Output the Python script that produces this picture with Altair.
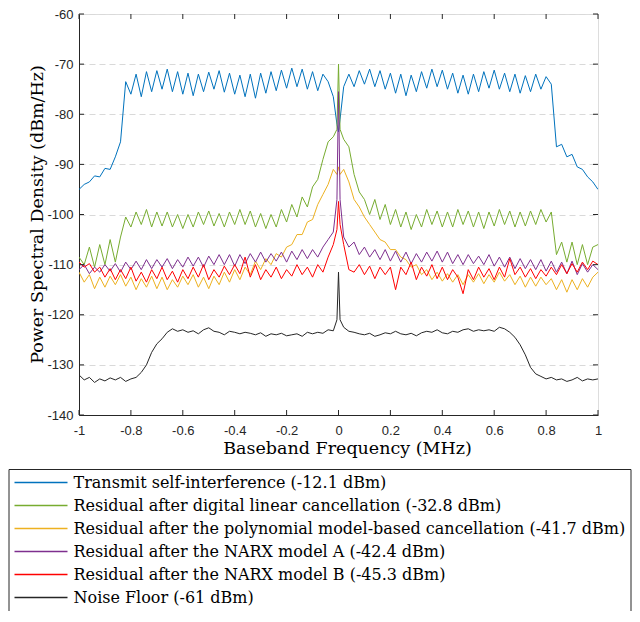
import altair as alt
import pandas as pd

FREQ = [-1.00, -0.98, -0.96, -0.94, -0.92, -0.90, -0.88, -0.86, -0.84, -0.82,
        -0.80, -0.78, -0.76, -0.74, -0.72, -0.70, -0.68, -0.66, -0.64, -0.62,
        -0.60, -0.58, -0.56, -0.54, -0.52, -0.50, -0.48, -0.46, -0.44, -0.42,
        -0.40, -0.38, -0.36, -0.34, -0.32, -0.30, -0.28, -0.26, -0.24, -0.22,
        -0.20, -0.18, -0.16, -0.14, -0.12, -0.10, -0.08, -0.06, -0.04, -0.02,
        -0.006, 0.0, 0.006,
        0.02, 0.04, 0.06, 0.08, 0.10, 0.12, 0.14, 0.16, 0.18, 0.20,
        0.22, 0.24, 0.26, 0.28, 0.30, 0.32, 0.34, 0.36, 0.38, 0.40,
        0.42, 0.44, 0.46, 0.48, 0.50, 0.52, 0.54, 0.56, 0.58, 0.60,
        0.62, 0.64, 0.66, 0.68, 0.70, 0.72, 0.74, 0.76, 0.78, 0.80,
        0.82, 0.84, 0.86, 0.88, 0.90, 0.92, 0.94, 0.96, 0.98, 1.00]

TX_SI = [-95.0, -94.0, -93.5, -92.3, -92.5, -90.8, -91.0, -88.5, -85.5, -73.5,
         -76.0, -72.0, -76.5, -71.5, -75.5, -71.3, -75.0, -71.0, -75.5, -71.5,
         -76.0, -71.8, -76.3, -72.0, -75.5, -71.6, -75.0, -71.3, -75.6, -71.8,
         -76.0, -72.2, -76.5, -72.0, -76.8, -71.8, -75.8, -71.5, -75.3, -71.2,
         -74.8, -70.8, -74.5, -71.0, -75.0, -71.5, -75.3, -72.0, -73.5, -76.5,
         -82.0, -83.5, -81.0,
         -74.5, -72.0, -74.5, -71.3, -74.0, -71.0, -74.5, -71.3, -75.0, -71.8,
         -75.8, -72.0, -76.3, -72.2, -75.5, -71.5, -74.8, -71.0, -74.5, -71.2,
         -75.0, -71.8, -75.8, -72.2, -76.0, -72.0, -75.5, -71.5, -74.8, -71.2,
         -75.0, -71.8, -75.5, -72.0, -75.8, -72.3, -75.5, -72.0, -75.0, -72.5,
         -74.0, -86.5, -86.0, -88.5, -88.0, -90.5, -91.0, -92.5, -93.5, -95.0]

LINEAR = [-108.5, -110.0, -106.5, -110.5, -106.0, -110.0, -105.0, -109.5, -104.5, -100.5,
          -102.5, -99.5, -102.0, -99.0, -102.5, -99.5, -102.3, -99.5, -102.5, -100.0,
          -102.8, -100.0, -102.5, -99.5, -102.0, -99.3, -102.3, -99.8, -102.5, -99.5,
          -102.0, -99.0, -102.0, -99.3, -102.5, -99.8, -102.8, -100.0, -102.5, -99.0,
          -101.5, -98.0, -100.5, -96.5, -98.5, -94.5, -93.0, -89.0, -85.5, -84.5,
          -83.0, -70.0, -83.0,
          -85.0, -86.5, -92.0, -95.5, -97.0, -100.0, -97.0, -101.0, -98.0, -102.0,
          -99.0, -102.5, -99.5, -103.0, -100.0, -102.5, -99.0, -102.0, -99.3, -102.5,
          -99.5, -102.5, -99.0, -102.0, -99.3, -102.5, -99.5, -102.8, -99.5, -102.3,
          -99.0, -102.0, -99.3, -102.5, -99.5, -102.3, -99.3, -102.0, -99.0, -101.5,
          -99.5, -108.0, -105.5, -109.5, -105.5, -110.0, -106.0, -110.0, -106.5, -106.0]

POLY = [-111.5, -113.5, -112.0, -114.8, -112.5, -114.5, -112.3, -114.0, -112.0, -114.3,
        -112.5, -115.0, -112.8, -114.5, -112.3, -114.8, -112.5, -115.0, -113.0, -114.5,
        -112.3, -114.0, -112.0, -114.5, -112.5, -114.8, -112.3, -114.0, -111.5, -113.5,
        -111.0, -113.0, -110.5, -112.0, -109.3, -111.0, -108.8, -110.0, -107.8, -108.5,
        -106.5, -106.0, -104.0, -104.0, -101.5, -101.0, -98.0, -96.0, -94.0, -91.0,
        -92.0, -90.5, -92.0,
        -91.0, -93.5, -97.0, -98.5, -100.5, -102.0, -103.5, -105.0, -105.5, -107.0,
        -107.0, -108.5, -109.0, -110.5, -110.0, -112.0, -111.0, -113.0, -111.5, -113.3,
        -111.8, -113.5, -112.0, -114.0, -112.0, -113.5, -111.8, -113.8, -112.0, -113.5,
        -111.5, -113.3, -112.0, -114.0, -112.3, -114.5, -112.5, -114.3, -112.5, -114.0,
        -112.8, -115.0, -113.0, -115.5, -113.0, -115.0, -112.8, -114.5, -112.5, -111.5]

NARX_A = [-111.0, -110.0, -111.8, -110.5, -111.5, -110.0, -111.3, -109.8, -111.5, -109.5,
          -111.0, -109.3, -111.0, -109.0, -110.8, -109.0, -110.5, -108.8, -110.8, -109.0,
          -110.5, -108.5, -110.3, -108.5, -110.5, -108.3, -110.0, -108.0, -110.0, -108.0,
          -110.3, -108.0, -109.8, -107.8, -109.5, -107.5, -109.5, -107.8, -109.3, -107.5,
          -109.5, -107.3, -109.0, -107.0, -108.8, -107.0, -108.5, -106.5, -105.0, -103.5,
          -97.0, -75.5, -97.0,
          -104.5, -106.5, -105.5, -108.0, -106.5, -108.5, -107.0, -109.0, -107.0, -109.3,
          -107.3, -109.5, -107.5, -109.8, -107.8, -109.5, -107.5, -109.3, -107.3, -109.5,
          -107.5, -109.8, -108.0, -110.0, -108.0, -109.8, -108.3, -110.0, -108.0, -110.3,
          -108.5, -110.5, -108.5, -110.8, -108.8, -110.8, -109.0, -111.0, -109.0, -111.3,
          -109.3, -111.5, -109.5, -111.8, -109.3, -112.0, -109.8, -111.5, -110.0, -111.0]

NARX_B = [-109.5, -110.5, -109.8, -111.5, -110.5, -112.5, -110.8, -113.0, -111.0, -112.8,
          -110.5, -113.3, -111.5, -113.5, -111.0, -112.8, -110.5, -113.0, -111.3, -113.5,
          -111.0, -112.8, -110.5, -112.5, -110.0, -113.0, -111.0, -112.5, -110.3, -112.0,
          -110.0, -111.8, -108.5, -112.5, -110.0, -113.0, -111.0, -112.5, -110.5, -112.8,
          -111.0, -112.3, -110.0, -112.0, -110.5, -112.5, -110.0, -111.5, -108.5, -106.0,
          -103.0, -97.4, -102.0,
          -106.0, -111.0, -111.5, -110.0, -112.0, -110.3, -112.8, -110.5, -112.0, -110.5,
          -115.0, -110.5, -112.0, -109.5, -113.0, -110.5, -112.3, -110.0, -112.8, -110.5,
          -113.0, -111.0, -112.5, -115.8, -111.0, -113.0, -110.5, -112.5, -110.8, -113.0,
          -110.5, -112.5, -108.8, -112.0, -110.5, -112.5, -110.8, -112.8, -111.0, -112.3,
          -110.5, -112.0, -110.0, -111.8, -109.8, -111.5, -109.5, -111.0, -109.3, -110.0]

NOISE = [-132.0, -133.0, -132.5, -133.5, -132.8, -133.2, -132.6, -133.0, -132.5, -133.3,
         -132.8, -132.5, -131.5, -130.0, -127.5, -125.8, -124.8, -123.5, -122.8, -123.3,
         -123.0, -123.5, -123.2, -123.8, -123.0, -122.6, -123.3, -123.5, -124.0, -123.3,
         -123.5, -123.8, -123.5, -123.7, -124.0, -123.6, -124.3, -123.8, -124.0, -123.7,
         -124.2, -124.0, -123.8, -124.3, -123.5, -123.8, -123.5, -123.7, -123.0, -123.2,
         -121.0, -111.5, -121.0,
         -122.5, -123.3, -123.5, -123.8, -124.0, -123.7, -124.3, -124.0, -123.6, -123.8,
         -123.3, -123.8, -124.0, -123.7, -124.2, -123.6, -123.3, -123.5, -123.0, -123.6,
         -123.8, -123.3, -123.5, -123.0, -122.8, -123.3, -123.0, -123.2, -123.0, -123.3,
         -122.5, -122.8, -123.5, -124.5, -126.0, -128.0, -130.5, -131.8, -132.3, -132.8,
         -132.5, -133.0, -132.8, -133.3, -133.0, -132.5, -133.2, -132.8, -133.0, -132.8]

NAMES = [
    "Transmit self-interference (-12.1 dBm)",
    "Residual after digital linear cancellation (-32.8 dBm)",
    "Residual after the polynomial model-based cancellation (-41.7 dBm)",
    "Residual after the NARX model A (-42.4 dBm)",
    "Residual after the NARX model B (-45.3 dBm)",
    "Noise Floor (-61 dBm)",
]
COLORS = ["#0072BD", "#77AC30", "#EDB120", "#7E2F8E", "#FF0000", "#262626"]
XTICKS = [-1, -0.8, -0.6, -0.4, -0.2, 0, 0.2, 0.4, 0.6, 0.8, 1]
YTICKS = [-140, -130, -120, -110, -100, -90, -80, -70, -60]

rows = []
for name, vals in zip(NAMES, [TX_SI, LINEAR, POLY, NARX_A, NARX_B, NOISE]):
    for f, v in zip(FREQ, vals):
        rows.append({"series": name, "f": f, "v": v})
df = pd.DataFrame(rows)

W, H = 519, 401
AX = "#262626"
SERIF = "DejaVu Serif"

xscale = alt.Scale(domain=[-1, 1], nice=False, zero=False)
yscale = alt.Scale(domain=[-140, -60], nice=False, zero=False)

XAXIS = alt.Axis(
    values=XTICKS, labelExpr="'' + datum.value", grid=False, ticks=False,
    title="Baseband Frequency (MHz)", titleFont=SERIF,
    titleFontSize=17.5, titleFontWeight="normal", titleColor="#000000",
    titleX=268, titleY=38, titleBaseline="alphabetic",
    labelPadding=9, labelFont="Liberation Sans",
    labelFontSize=13, labelColor=AX, domainColor=AX, labelFlush=False)
YAXIS = alt.Axis(
    values=YTICKS, labelExpr="'' + datum.value", grid=True,
    gridDash=[6, 4], gridColor="#d9d9d9", ticks=False,
    title="Power Spectral Density (dBm/Hz)", titleFont=SERIF,
    titleFontSize=17.5, titleFontWeight="normal", titleColor="#000000",
    titleX=-37, titleY=200, titleBaseline="alphabetic",
    labelPadding=6, labelFont="Liberation Sans",
    labelFontSize=13, labelColor=AX, domainColor=AX)

lines = alt.Chart(df).mark_line(strokeWidth=1, clip=True).encode(
    x=alt.X("f:Q", scale=xscale, axis=XAXIS),
    y=alt.Y("v:Q", scale=yscale, axis=YAXIS),
    color=alt.Color("series:N", sort=NAMES,
                    scale=alt.Scale(domain=NAMES, range=COLORS),
                    legend=alt.Legend(
                        title=None, orient="none", legendX=-70.5, legendY=455,
                        symbolType="stroke", symbolSize=2809, symbolStrokeWidth=1.5,
                        clipHeight=17,
                        labelFont=SERIF, labelFontSize=16,
                        labelColor="#000000", labelLimit=1000, labelOffset=5,
                        rowPadding=6, padding=5, strokeColor=AX,
                        fillColor="#ffffff")),
)

xt = pd.DataFrame({"f": XTICKS})
yt = pd.DataFrame({"v": YTICKS})
tick_bottom = alt.Chart(xt).mark_rule(color=AX, strokeWidth=1).encode(
    x=alt.X("f:Q", scale=xscale, axis=XAXIS), y=alt.value(H), y2=alt.value(H - 5))
tick_top = alt.Chart(xt).mark_rule(color=AX, strokeWidth=1).encode(
    x=alt.X("f:Q", scale=xscale, axis=XAXIS), y=alt.value(0), y2=alt.value(5))
tick_left = alt.Chart(yt).mark_rule(color=AX, strokeWidth=1).encode(
    y=alt.Y("v:Q", scale=yscale, axis=YAXIS), x=alt.value(0), x2=alt.value(5))
tick_right = alt.Chart(yt).mark_rule(color=AX, strokeWidth=1).encode(
    y=alt.Y("v:Q", scale=yscale, axis=YAXIS), x=alt.value(W), x2=alt.value(W - 5))

chart = alt.layer(lines, tick_bottom, tick_top, tick_left, tick_right).properties(
    width=W, height=H,
    padding={"left": 71, "top": 6, "right": 34, "bottom": 196},
    autosize=alt.AutoSizeParams(type="none"),
).configure_view(stroke=AX, strokeWidth=1).configure(background="#ffffff")

chart.save("out.html", embed_options={"renderer": "svg", "actions": False})
